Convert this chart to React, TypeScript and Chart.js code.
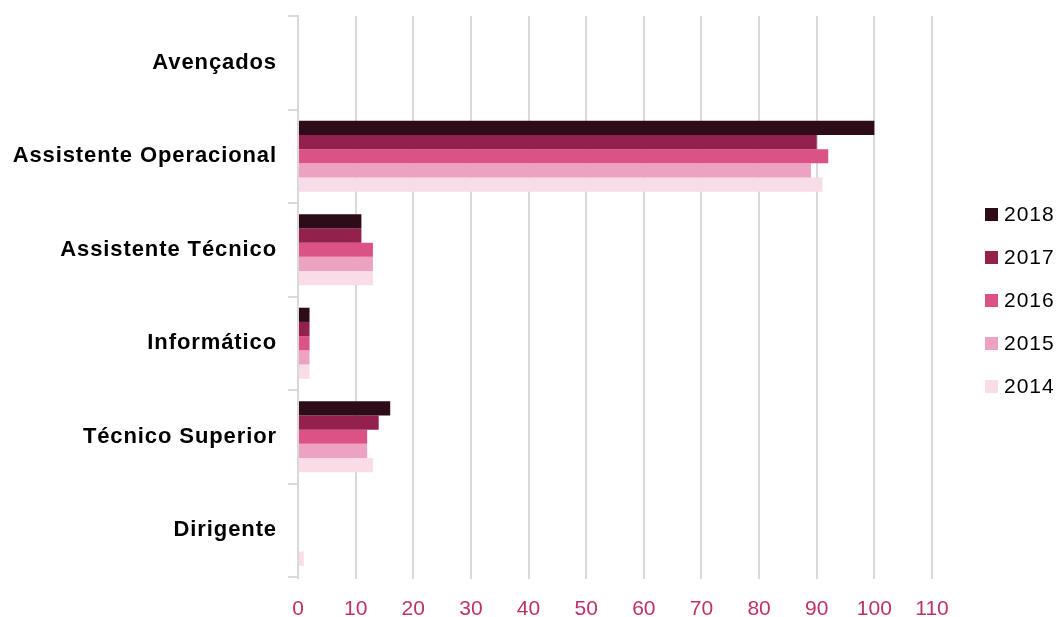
import React, { useEffect, useRef } from "react";
import { Chart, registerables } from "chart.js";

Chart.register(...registerables);

const categories = [
  "Avençados",
  "Assistente Operacional",
  "Assistente Técnico",
  "Informático",
  "Técnico Superior",
  "Dirigente",
];

const years = ["2018", "2017", "2016", "2015", "2014"];

const values2018 = [0, 100, 11, 2, 16, 0];
const values2017 = [0, 90, 11, 2, 14, 0];
const values2016 = [0, 92, 13, 2, 12, 0];
const values2015 = [0, 89, 13, 2, 12, 0];
const values2014 = [0, 91, 13, 2, 13, 1];

const seriesValues = [values2018, values2017, values2016, values2015, values2014];
const colors = ["#2E0B19", "#94204D", "#DB5287", "#ECA2C0", "#F8DDE8"];

const xTicks = [0, 10, 20, 30, 40, 50, 60, 70, 80, 90, 100, 110];

const FONT = "'Liberation Sans', Arial, sans-serif";

const spacingPlugin = {
  id: "labelSpacing",
  beforeDraw(chart: any) {
    const y = chart.scales.y;
    if (y && !y.__patched) {
      const orig = y.drawLabels;
      y.drawLabels = function (area: any) {
        const ctx = this.ctx;
        const prev = ctx.letterSpacing;
        ctx.letterSpacing = "0.9px";
        orig.call(this, area);
        ctx.letterSpacing = prev || "0px";
      };
      y.__patched = true;
    }
  },
};

const legendPlugin = {
  id: "customLegend",
  afterDraw(chart: any) {
    const ctx = chart.ctx;
    ctx.save();
    ctx.font = `21px ${FONT}`;
    ctx.letterSpacing = "1px";
    ctx.textBaseline = "middle";
    ctx.textAlign = "left";
    chart.data.datasets.forEach((ds: any, i: number) => {
      const y = 214 + i * 43;
      ctx.fillStyle = ds.backgroundColor;
      ctx.fillRect(985, y - 6, 13, 13);
      ctx.fillStyle = "#000000";
      ctx.fillText(ds.label, 1004, y + 1);
    });
    ctx.letterSpacing = "0px";
    ctx.restore();
  },
};

export default function App() {
  const ref = useRef<HTMLCanvasElement | null>(null);

  useEffect(() => {
    document.body.style.margin = "0";
    const canvas = ref.current;
    if (!canvas) return;
    const chart = new Chart(canvas, {
      type: "bar",
      data: {
        labels: categories,
        datasets: years.map((y, i) => ({
          label: y,
          data: seriesValues[i],
          backgroundColor: colors[i],
          borderWidth: 0,
          categoryPercentage: 0.76,
          barPercentage: 1,
        })),
      },
      options: {
        indexAxis: "y",
        responsive: false,
        animation: false,
        layout: { padding: { top: 16, right: 127, left: 0, bottom: 0 } },
        plugins: {
          legend: { display: false },
          tooltip: { enabled: false },
        },
        scales: {
          x: {
            min: 0,
            max: 110,
            afterBuildTicks: (scale: any) => {
              scale.ticks = xTicks.map((v) => ({ value: v }));
            },
            afterFit: (scale: any) => {
              scale.height = 40;
            },
            grid: {
              color: "#d9d9d9",
              lineWidth: 2,
              tickLength: 2,
              drawTicks: true,
            },
            border: { display: false },
            ticks: {
              color: "#BE3267",
              font: { family: FONT, size: 21 },
              padding: 18,
            },
          },
          y: {
            afterFit: (scale: any) => {
              scale.width = 298;
              scale.paddingTop = 0;
              scale.paddingBottom = 0;
            },
            grid: {
              offset: true,
              drawOnChartArea: false,
              color: "#d9d9d9",
              lineWidth: 2,
              tickLength: 10,
            },
            border: { display: true, color: "#d9d9d9", width: 2 },
            ticks: {
              color: "#000000",
              font: { family: FONT, size: 22, weight: "bold" },
              padding: 11,
            },
          },
        },
      },
      plugins: [spacingPlugin, legendPlugin],
    });
    return () => chart.destroy();
  }, []);

  return (
    <div style={{ position: "absolute", left: 0, top: 0, width: 1059, height: 617 }}>
      <canvas ref={ref} width={1059} height={617} />
    </div>
  );
}
